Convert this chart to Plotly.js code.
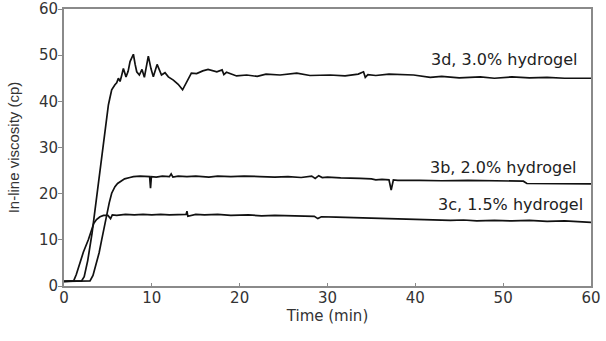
<!DOCTYPE html>
<html>
<head>
<meta charset="utf-8">
<script src="https://cdn.plot.ly/plotly-3.0.1.min.js"></script>
<style>html,body{margin:0;padding:0;background:#fff}#chart{width:606px;height:341px}</style>
</head>
<body>
<div id="chart"></div>
<script>
// 3d, 3.0% hydrogel
const t3d = [0, 1, 2.0, 2.3, 2.7, 3.2, 3.83, 4.3, 4.78, 5.05, 5.2, 5.43, 5.8, 6.0, 6.19, 6.38, 6.55, 6.76, 7.06, 7.3, 7.52, 7.9, 8.1, 8.28, 8.58, 8.88, 9.15, 9.3, 9.6, 9.9, 10.17, 10.6, 10.85, 11.1, 11.5, 11.88, 12.45, 13.0, 13.5, 13.97, 14.5, 15.1, 15.8, 16.4, 17.4, 18.0, 18.2, 18.5, 19.65, 20.8, 22, 23, 24.6, 26.5, 28, 30.3, 32, 33.5, 34.1, 34.3, 34.6, 35.5, 37, 39.8, 41.7, 43, 45, 47.4, 49, 51, 53, 55, 57, 60];
const v3d = [1, 1, 1.1, 2, 5.5, 11.5, 20.8, 28.5, 35.9, 39.2, 40.5, 42.5, 43.6, 44, 45, 44.3, 45.5, 47.1, 45.3, 46.5, 48.6, 50.2, 48, 46.4, 45.7, 46.9, 45.2, 46.8, 49.8, 47.1, 45.3, 48, 47, 45.7, 46.2, 45.3, 44.6, 43.7, 42.5, 44.3, 46.1, 46, 46.6, 46.9, 46.4, 46.8, 45.8, 46.3, 45.5, 45.7, 45.4, 45.9, 45.7, 46.1, 45.6, 45.7, 45.5, 45.9, 46.4, 45.2, 45.8, 45.6, 45.9, 45.7, 45.2, 45.4, 45.1, 45.3, 45.0, 45.3, 45.1, 45.2, 45.0, 45.0];

// 3b, 2.0% hydrogel
const t3b = [0, 1, 2, 2.96, 3.3, 3.7, 4.0, 4.29, 4.6, 4.86, 5.15, 5.43, 5.8, 6.1, 6.38, 6.9, 7.5, 7.9, 8.66, 9.2, 9.75, 9.85, 9.95, 10.5, 11.2, 12.0, 12.2, 12.4, 13, 14, 15, 16.5, 17.5, 19, 20.5, 22.3, 24, 25.5, 27, 28.2, 28.6, 29, 29.4, 30, 31.5, 33.7, 35, 35.5, 36.2, 37.0, 37.25, 37.5, 38, 40.5, 43, 46, 49, 52.3, 52.7, 55, 58, 60];
const v3b = [1, 1, 1, 1.1, 2.3, 4.8, 7.2, 10, 13, 15.7, 18, 20.1, 21.5, 22.2, 22.6, 23.2, 23.5, 23.7, 23.8, 23.7, 23.7, 21.2, 23.7, 23.6, 23.8, 23.7, 24.3, 23.6, 23.8, 23.7, 23.8, 23.6, 23.8, 23.7, 23.8, 23.7, 23.6, 23.7, 23.5, 23.8, 23.3, 23.9, 23.5, 23.6, 23.4, 23.3, 23.2, 23.0, 23.1, 23.0, 20.8, 23.0, 22.9, 22.9, 22.8, 22.9, 22.8, 22.7, 22.2, 22.2, 22.2, 22.1];

// 3c, 1.5% hydrogel
const t3c = [0, 1, 1.1, 1.4, 1.8, 2.2, 2.77, 3.1, 3.4, 3.7, 4.1, 4.5, 5.0, 5.3, 5.5, 6, 7, 8, 9, 10, 11, 12, 13, 13.9, 14.0, 14.1, 15, 16, 17.5, 19, 21, 22.5, 24, 26, 28.5, 28.9, 29.3, 31, 33, 35, 36, 37, 38, 40, 42, 44, 45.5, 47, 49, 51, 53, 55, 57, 58.5, 59.5, 60];
const v3c = [1, 1, 1.1, 2.5, 5, 7.3, 10, 12, 13.6, 14.4, 15, 15.3, 15.3, 14.6, 15.4, 15.3, 15.5, 15.4, 15.5, 15.4, 15.5, 15.4, 15.5, 15.5, 16.2, 15.1, 15.5, 15.4, 15.5, 15.3, 15.4, 15.2, 15.3, 15.2, 15.1, 14.6, 15.0, 14.9, 14.8, 14.7, 14.5, 14.6, 14.4, 14.3, 14.3, 14.2, 14.3, 14.1, 14.2, 14.1, 14.2, 14.0, 14.1, 14.0, 13.9, 13.8];

const seriesLabels = ["3d, 3.0% hydrogel", "3b, 2.0% hydrogel", "3c, 1.5% hydrogel"];
const labelX = [58.6, 58.5, 59.3];
const labelY = [49.1, 25.7, 17.6];

const lineStyle = {color: '#111111', width: 1.7};
const traces = [
  {x: t3d, y: v3d, name: seriesLabels[0], type: 'scatter', mode: 'lines', line: lineStyle},
  {x: t3b, y: v3b, name: seriesLabels[1], type: 'scatter', mode: 'lines', line: lineStyle},
  {x: t3c, y: v3c, name: seriesLabels[2], type: 'scatter', mode: 'lines', line: lineStyle}
];

const tickFont = {family: 'DejaVu Sans', size: 15, color: '#333333'};
const layout = {
  width: 606, height: 341,
  margin: {l: 64, r: 15, t: 9, b: 55},
  paper_bgcolor: '#ffffff', plot_bgcolor: '#ffffff',
  showlegend: false,
  font: {family: 'DejaVu Sans', color: '#222222'},
  xaxis: {
    range: [0, 60], tickvals: [0, 10, 20, 30, 40, 50, 60],
    showgrid: false, zeroline: false,
    showline: true, mirror: true, linecolor: '#8a8a8a', linewidth: 2,
    ticks: 'inside', ticklen: 3, tickcolor: '#8a8a8a',
    tickfont: tickFont, ticklabelstandoff: -3,
    title: {text: 'Time (min)', font: {family: 'DejaVu Sans', size: 15, color: '#333333'}, standoff: 2}
  },
  yaxis: {
    range: [0, 60], tickvals: [0, 10, 20, 30, 40, 50, 60],
    showgrid: false, zeroline: false,
    showline: true, mirror: true, linecolor: '#8a8a8a', linewidth: 2,
    ticks: 'outside', ticklen: 4, tickcolor: '#8a8a8a',
    tickfont: tickFont, ticklabelstandoff: -3,
    title: {text: 'In-line viscosity (cp)', font: {family: 'Liberation Sans', size: 15, color: '#333333'}, standoff: 16}
  },
  annotations: seriesLabels.map((s, i) => ({
    x: labelX[i], y: labelY[i], xref: 'x', yref: 'y',
    text: s, showarrow: false, xanchor: 'right', yanchor: 'middle',
    font: {family: 'DejaVu Sans', size: 16, color: '#222222'}
  }))
};

Plotly.newPlot('chart', traces, layout, {displayModeBar: false, staticPlot: true});
</script>
</body>
</html>
